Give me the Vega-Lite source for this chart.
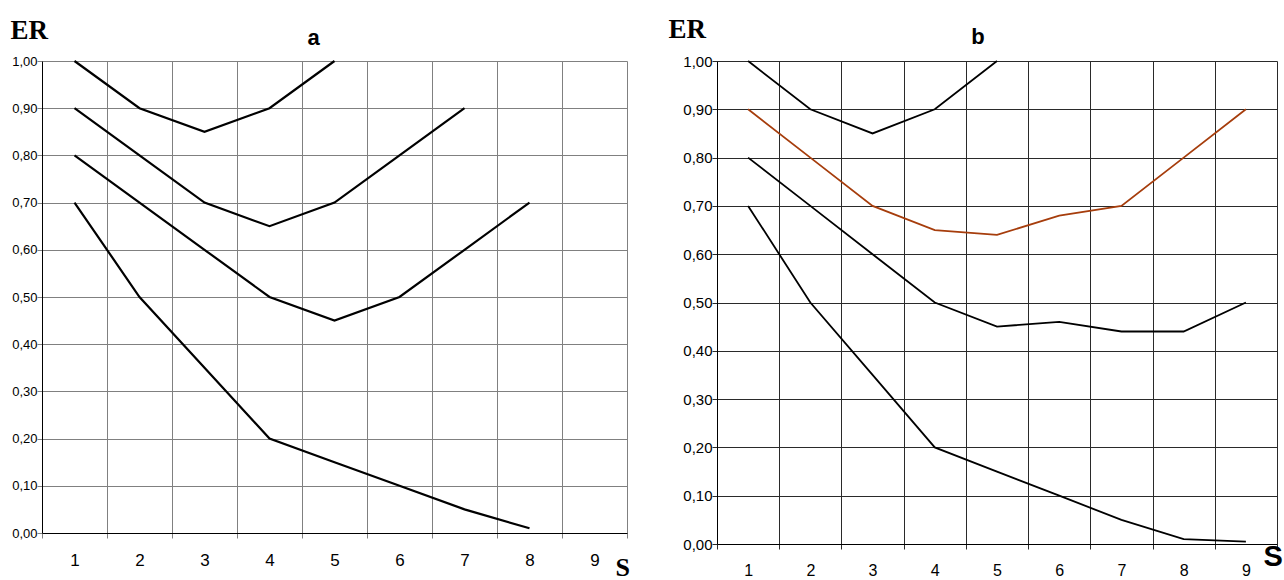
{
  "$schema": "https://vega.github.io/schema/vega-lite/v6.json",
  "background": "white",
  "padding": {"left": 10, "top": 15, "right": 0, "bottom": 0},
  "spacing": 38,
  "config": {"view": {"stroke": null}},
  "data": {"values": [
    {"panel": "a", "series": "s1", "S": 1, "ER": 1.0},
    {"panel": "a", "series": "s1", "S": 2, "ER": 0.9},
    {"panel": "a", "series": "s1", "S": 3, "ER": 0.85},
    {"panel": "a", "series": "s1", "S": 4, "ER": 0.9},
    {"panel": "a", "series": "s1", "S": 5, "ER": 1.0},
    {"panel": "a", "series": "s2", "S": 1, "ER": 0.9},
    {"panel": "a", "series": "s2", "S": 2, "ER": 0.8},
    {"panel": "a", "series": "s2", "S": 3, "ER": 0.7},
    {"panel": "a", "series": "s2", "S": 4, "ER": 0.65},
    {"panel": "a", "series": "s2", "S": 5, "ER": 0.7},
    {"panel": "a", "series": "s2", "S": 6, "ER": 0.8},
    {"panel": "a", "series": "s2", "S": 7, "ER": 0.9},
    {"panel": "a", "series": "s3", "S": 1, "ER": 0.8},
    {"panel": "a", "series": "s3", "S": 2, "ER": 0.7},
    {"panel": "a", "series": "s3", "S": 3, "ER": 0.6},
    {"panel": "a", "series": "s3", "S": 4, "ER": 0.5},
    {"panel": "a", "series": "s3", "S": 5, "ER": 0.45},
    {"panel": "a", "series": "s3", "S": 6, "ER": 0.5},
    {"panel": "a", "series": "s3", "S": 7, "ER": 0.6},
    {"panel": "a", "series": "s3", "S": 8, "ER": 0.7},
    {"panel": "a", "series": "s4", "S": 1, "ER": 0.7},
    {"panel": "a", "series": "s4", "S": 2, "ER": 0.5},
    {"panel": "a", "series": "s4", "S": 3, "ER": 0.35},
    {"panel": "a", "series": "s4", "S": 4, "ER": 0.2},
    {"panel": "a", "series": "s4", "S": 5, "ER": 0.15},
    {"panel": "a", "series": "s4", "S": 6, "ER": 0.1},
    {"panel": "a", "series": "s4", "S": 7, "ER": 0.05},
    {"panel": "a", "series": "s4", "S": 8, "ER": 0.01},
    {"panel": "b", "series": "s1", "S": 1, "ER": 1.0},
    {"panel": "b", "series": "s1", "S": 2, "ER": 0.9},
    {"panel": "b", "series": "s1", "S": 3, "ER": 0.85},
    {"panel": "b", "series": "s1", "S": 4, "ER": 0.9},
    {"panel": "b", "series": "s1", "S": 5, "ER": 1.0},
    {"panel": "b", "series": "s2", "S": 1, "ER": 0.9},
    {"panel": "b", "series": "s2", "S": 2, "ER": 0.8},
    {"panel": "b", "series": "s2", "S": 3, "ER": 0.7},
    {"panel": "b", "series": "s2", "S": 4, "ER": 0.65},
    {"panel": "b", "series": "s2", "S": 5, "ER": 0.64},
    {"panel": "b", "series": "s2", "S": 6, "ER": 0.68},
    {"panel": "b", "series": "s2", "S": 7, "ER": 0.7},
    {"panel": "b", "series": "s2", "S": 8, "ER": 0.8},
    {"panel": "b", "series": "s2", "S": 9, "ER": 0.9},
    {"panel": "b", "series": "s3", "S": 1, "ER": 0.8},
    {"panel": "b", "series": "s3", "S": 2, "ER": 0.7},
    {"panel": "b", "series": "s3", "S": 3, "ER": 0.6},
    {"panel": "b", "series": "s3", "S": 4, "ER": 0.5},
    {"panel": "b", "series": "s3", "S": 5, "ER": 0.45},
    {"panel": "b", "series": "s3", "S": 6, "ER": 0.46},
    {"panel": "b", "series": "s3", "S": 7, "ER": 0.44},
    {"panel": "b", "series": "s3", "S": 8, "ER": 0.44},
    {"panel": "b", "series": "s3", "S": 9, "ER": 0.5},
    {"panel": "b", "series": "s4", "S": 1, "ER": 0.7},
    {"panel": "b", "series": "s4", "S": 2, "ER": 0.5},
    {"panel": "b", "series": "s4", "S": 3, "ER": 0.35},
    {"panel": "b", "series": "s4", "S": 4, "ER": 0.2},
    {"panel": "b", "series": "s4", "S": 5, "ER": 0.15},
    {"panel": "b", "series": "s4", "S": 6, "ER": 0.1},
    {"panel": "b", "series": "s4", "S": 7, "ER": 0.05},
    {"panel": "b", "series": "s4", "S": 8, "ER": 0.01},
    {"panel": "b", "series": "s4", "S": 9, "ER": 0.005}
  ]},
  "hconcat": [
    {
      "width": 585,
      "height": 472,
      "title": {"text": "a", "frame": "group", "font": "Liberation Sans", "fontSize": 22, "fontWeight": "bold", "color": "black", "anchor": "middle", "dx": -21, "baseline": "alphabetic", "offset": -51},
      "transform": [{"filter": "datum.panel == 'a'"}],
      "mark": {"type": "line", "color": "black", "strokeWidth": 2.2},
      "encoding": {
        "x": {
          "field": "S", "type": "ordinal", "bandPosition": 0.5,
          "scale": {"type": "band", "domain": [1, 2, 3, 4, 5, 6, 7, 8, 9], "paddingInner": 0, "paddingOuter": 0},
          "axis": {
            "tickBand": "extent", "labelAngle": 0, "grid": true, "gridColor": "#808080", "gridOpacity": 1,
            "tickColor": "#808080", "tickSize": 5, "domainColor": "black",
            "labelPadding": 27, "labelBaseline": "alphabetic", "labelFont": "Liberation Sans", "labelFontSize": 17, "labelColor": "black",
            "title": "S", "titleFont": "Liberation Serif", "titleFontSize": 26, "titleFontWeight": "bold", "titleColor": "black",
            "titleAlign": "left", "titleBaseline": "alphabetic", "titleX": 573, "titleY": 42, "titleAngle": 0
          }
        },
        "y": {
          "field": "ER", "type": "quantitative",
          "scale": {"domain": [0, 1], "nice": false, "zero": false},
          "axis": {
            "values": [0, 0.1, 0.2, 0.3, 0.4, 0.5, 0.6, 0.7, 0.8, 0.9, 1.0],
            "labelExpr": "replace(format(datum.value, '.2f'), '.', ',')",
            "grid": true, "gridColor": "#808080", "gridOpacity": 1, "tickColor": "#808080", "tickSize": 5, "domainColor": "black",
            "labelPadding": 0, "labelFont": "Liberation Sans Narrow, Liberation Sans", "labelFontSize": 13, "labelColor": "black",
            "title": "ER", "titleFont": "Liberation Serif", "titleFontSize": 27, "titleFontWeight": "bold", "titleColor": "black",
            "titleAngle": 0, "titleAlign": "left", "titleBaseline": "alphabetic", "titleX": -32, "titleY": -23
          }
        },
        "detail": {"field": "series"}
      }
    },
    {
      "width": 560,
      "height": 483,
      "title": {"text": "b", "frame": "group", "font": "Liberation Sans", "fontSize": 22, "fontWeight": "bold", "color": "black", "anchor": "middle", "dx": -19, "baseline": "alphabetic", "offset": -51},
      "transform": [{"filter": "datum.panel == 'b'"}],
      "mark": {"type": "line", "strokeWidth": 1.8},
      "encoding": {
        "x": {
          "field": "S", "type": "ordinal", "bandPosition": 0.5,
          "scale": {"type": "band", "domain": [1, 2, 3, 4, 5, 6, 7, 8, 9], "paddingInner": 0, "paddingOuter": 0},
          "axis": {
            "tickBand": "extent", "labelAngle": 0, "grid": true, "gridColor": "#2a2a2a", "gridOpacity": 1,
            "tickColor": "#2a2a2a", "tickSize": 5, "domainColor": "black",
            "labelPadding": 26, "labelBaseline": "alphabetic", "labelFont": "Liberation Sans", "labelFontSize": 16, "labelColor": "black",
            "title": "S", "titleFont": "Liberation Sans", "titleFontSize": 29, "titleFontWeight": "bold", "titleColor": "black",
            "titleAlign": "left", "titleBaseline": "alphabetic", "titleX": 546, "titleY": 21, "titleAngle": 0
          }
        },
        "y": {
          "field": "ER", "type": "quantitative",
          "scale": {"domain": [0, 1], "nice": false, "zero": false},
          "axis": {
            "values": [0, 0.1, 0.2, 0.3, 0.4, 0.5, 0.6, 0.7, 0.8, 0.9, 1.0],
            "labelExpr": "replace(format(datum.value, '.2f'), '.', ',')",
            "grid": true, "gridColor": "#2a2a2a", "gridOpacity": 1, "tickColor": "#2a2a2a", "tickSize": 5, "domainColor": "black",
            "labelPadding": 0, "labelFont": "Liberation Sans Narrow, Liberation Sans", "labelFontSize": 15, "labelColor": "black",
            "title": "ER", "titleFont": "Liberation Serif", "titleFontSize": 27, "titleFontWeight": "bold", "titleColor": "black",
            "titleAngle": 0, "titleAlign": "left", "titleBaseline": "alphabetic", "titleX": -49, "titleY": -24
          }
        },
        "color": {
          "field": "series", "type": "nominal",
          "scale": {"domain": ["s1", "s2", "s3", "s4"], "range": ["black", "#A63D0C", "black", "black"]},
          "legend": null
        }
      }
    }
  ],
  "resolve": {"scale": {"color": "independent"}}
}
